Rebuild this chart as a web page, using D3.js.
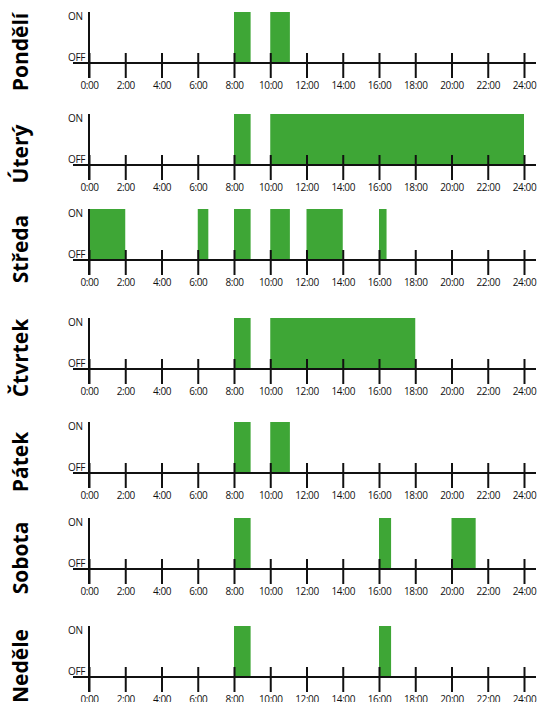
<!DOCTYPE html>
<html>
<head>
<meta charset="utf-8">
<script src="https://cdn.jsdelivr.net/npm/d3@7"></script>
<style>
  body { margin: 0; background: #fff; }
  svg { display: block; }
  text { font-family: "Open Sans", sans-serif; }
</style>
</head>
<body>
<svg id="chart" width="538" height="702"></svg>
<script>
'use strict';

const days = ['Pondělí', 'Úterý', 'Středa', 'Čtvrtek', 'Pátek', 'Sobota', 'Neděle'];

// ON intervals per day, [start, end]
const monday = [['8:00', '8:55'], ['10:00', '11:05']];
const tuesday = [['8:00', '8:55'], ['10:00', '24:00']];
const wednesday = [['0:00', '2:00'], ['6:00', '6:35'], ['8:00', '8:55'], ['10:00', '11:05'], ['12:00', '14:00'], ['16:00', '16:25']];
const thursday = [['8:00', '8:55'], ['10:00', '18:00']];
const friday = [['8:00', '8:55'], ['10:00', '11:05']];
const saturday = [['8:00', '8:55'], ['16:00', '16:40'], ['20:00', '21:20']];
const sunday = [['8:00', '8:55'], ['16:00', '16:40']];

const schedule = [monday, tuesday, wednesday, thursday, friday, saturday, sunday];
const hourTicks = d3.range(0, 25, 2);
const stateLabels = ['ON', 'OFF'];

// baseline (OFF line) of each panel
const panelBase = [63, 165, 260, 369, 473, 569, 677];
const barHeight = 51;

const toHours = (s) => {
  const [h, m] = s.split(':').map(Number);
  return h + m / 60;
};

const svg = d3.select('#chart');
const x = d3.scaleLinear().domain([0, 24]).range([89, 524]);

days.forEach((day, i) => {
  const base = panelBase[i];
  const y = d3.scaleLinear().domain([0, 1]).range([base, base - barHeight]);
  const g = svg.append('g');

  g.selectAll('rect')
      .data(schedule[i])
      .enter()
      .append('rect')
      .attr('x', (d) => x(toHours(d[0])))
      .attr('width', (d) => x(toHours(d[1])) - x(toHours(d[0])))
      .attr('y', y(1))
      .attr('height', y(0) - y(1))
      .attr('fill', '#3ea636');

  // horizontal baseline
  g.append('line')
      .attr('x1', 73).attr('x2', 536)
      .attr('y1', base).attr('y2', base)
      .attr('stroke', '#111').attr('stroke-width', 2);

  // vertical state axis
  g.append('line')
      .attr('x1', x(0)).attr('x2', x(0))
      .attr('y1', y(1)).attr('y2', base + 15)
      .attr('stroke', '#111').attr('stroke-width', 2);

  const axis = d3.axisBottom(x)
      .tickValues(hourTicks)
      .tickFormat((d) => d + ':00')
      .tickSize(15)
      .tickPadding(4);

  const ax = g.append('g')
      .attr('transform', `translate(0,${base})`)
      .call(axis);
  ax.select('.domain').remove();
  ax.selectAll('.tick line')
      .attr('y1', -10)
      .attr('stroke', '#111')
      .attr('stroke-width', 2);
  ax.selectAll('.tick text')
      .attr('font-family', '"Open Sans", sans-serif')
      .attr('font-size', 10)
      .attr('fill', '#111')
      .attr('dy', '0.71em')
      .attr('letter-spacing', -0.4);

  g.selectAll('.state')
      .data(stateLabels)
      .enter()
      .append('text')
      .attr('class', 'state')
      .attr('x', 68)
      .attr('y', (d) => d === 'ON' ? y(1) + 8 : base - 2)
      .attr('font-size', 10)
      .attr('letter-spacing', -0.4)
      .attr('fill', '#111')
      .text((d) => d);

  g.append('text')
      .attr('transform', `translate(28,${base - 11}) rotate(-90)`)
      .attr('text-anchor', 'middle')
      .attr('font-size', 21)
      .attr('font-weight', 700)
      .attr('fill', '#000')
      .text(day);
});
</script>
</body>
</html>
